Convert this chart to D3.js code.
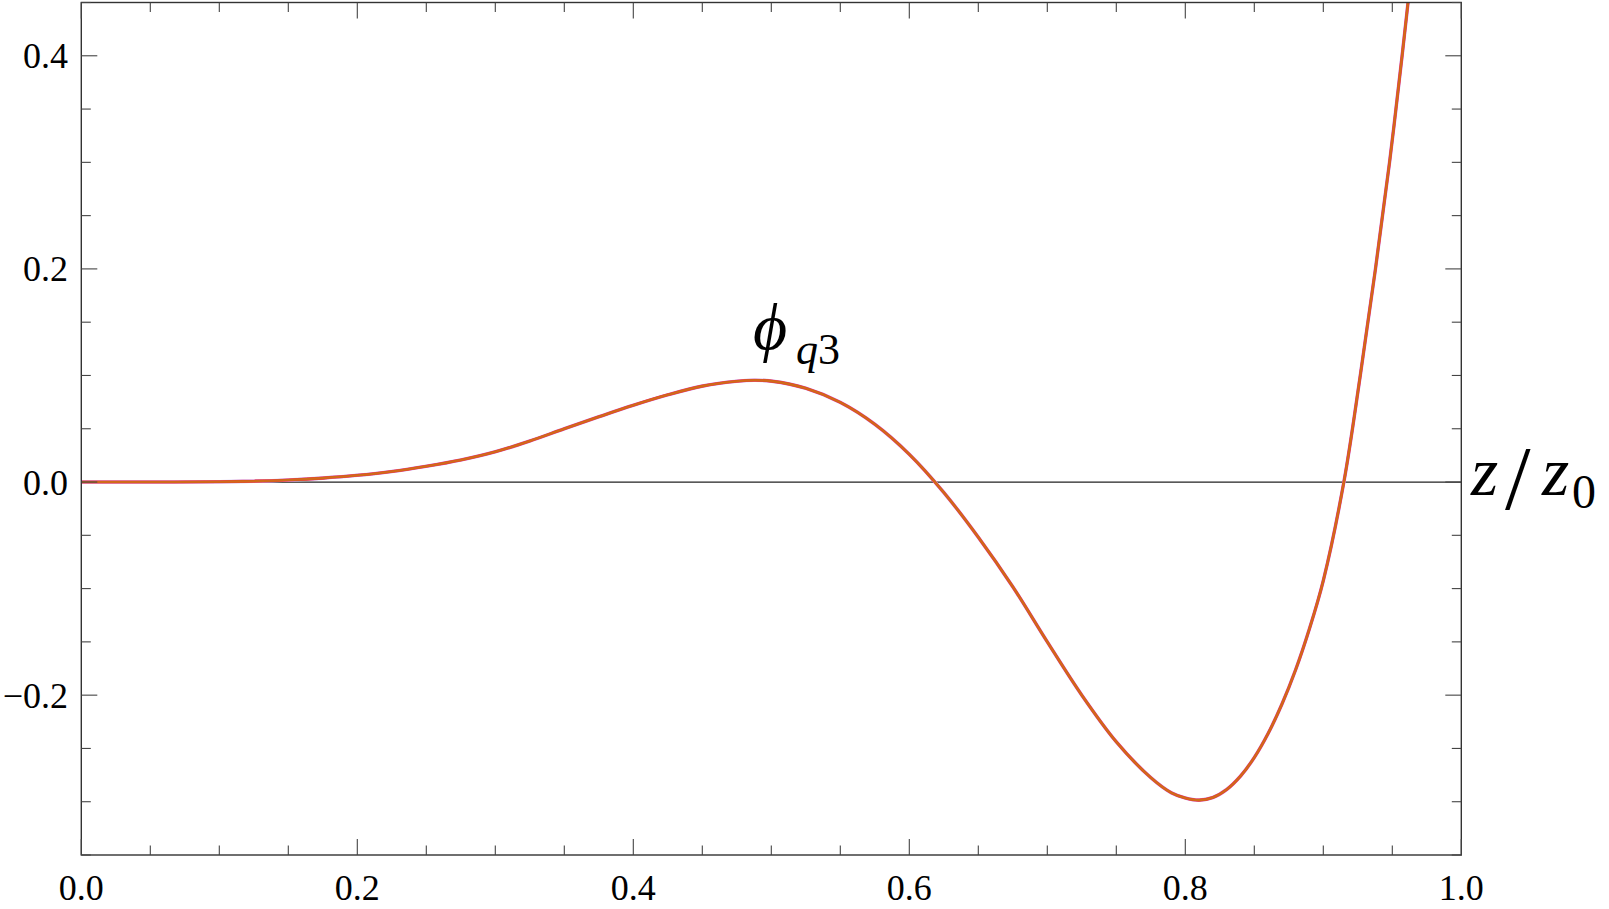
<!DOCTYPE html>
<html>
<head>
<meta charset="utf-8">
<script src="https://cdn.jsdelivr.net/npm/d3@7"></script>
<style>
  body { margin: 0; background: #fff; }
</style>
</head>
<body>
<script>
// data
var zVals = [0.00, 0.05, 0.10, 0.125, 0.15, 0.175, 0.20, 0.225, 0.25, 0.275, 0.30, 0.325, 0.35, 0.375,
  0.40, 0.425, 0.45, 0.475, 0.4875, 0.50, 0.525, 0.55, 0.575, 0.60, 0.625, 0.65, 0.675, 0.70,
  0.725, 0.75, 0.775, 0.79, 0.80, 0.81, 0.82, 0.83, 0.84, 0.85, 0.86, 0.87, 0.88, 0.89, 0.90, 0.9149,
  0.9268, 0.9378, 0.9480, 0.9571, 0.9614, 0.9657];
var phiVals = [0, 0, 0.0003, 0.0008, 0.0019, 0.0037, 0.0063, 0.0099, 0.0148, 0.0207, 0.0284, 0.0385, 0.0500, 0.0612,
  0.0720, 0.0818, 0.0900, 0.0945, 0.0955, 0.0947, 0.0880, 0.0747, 0.0542, 0.0260, -0.0098, -0.0518, -0.0983, -0.1500,
  -0.2000, -0.2438, -0.2774, -0.2917, -0.2965, -0.2985, -0.2960, -0.2885, -0.2760, -0.2585, -0.2360, -0.2085, -0.1760, -0.1375, -0.0925, 0,
  0.100, 0.200, 0.300, 0.400, 0.450, 0.500];

var xMajor = [0, 0.2, 0.4, 0.6, 0.8, 1.0];
var xMajorLabels = ["0.0", "0.2", "0.4", "0.6", "0.8", "1.0"];
var xMinor = d3.range(0, 1.0001, 0.05);
var yMajor = [-0.2, 0, 0.2, 0.4];
var yMajorLabels = ["\u22120.2", "0.0", "0.2", "0.4"];
var yMinor = d3.range(-0.35, 0.4501, 0.05);

var serif = "'Liberation Serif', 'Times New Roman', Tinos, 'DejaVu Serif', serif";

var svgWidth = 1609;
var svgHeight = 909;

var plot = { left: 81.3, right: 1461.3, top: 2.5, bottom: 855 };

var svg = d3.select("body")
  .append("svg")
  .attr("width", svgWidth)
  .attr("height", svgHeight)
  .attr("font-family", serif);

var xScale = d3.scaleLinear().domain([0, 1]).range([plot.left, plot.right]);
var yScale = d3.scaleLinear().domain([-0.35, 0.45]).range([plot.bottom, plot.top]);

svg.append("clipPath").attr("id", "clip")
  .append("rect")
  .attr("x", plot.left).attr("y", plot.top)
  .attr("width", plot.right - plot.left).attr("height", plot.bottom - plot.top);

// zero line
svg.append("line")
  .attr("x1", plot.left).attr("x2", plot.right)
  .attr("y1", yScale(0)).attr("y2", yScale(0))
  .attr("stroke", "#222").attr("stroke-width", 1.2);

// curve, a few traces drawn on top of each other
var data = zVals.map(function(z, i) { return [z, phiVals[i]]; });
var line = d3.line()
  .x(d => xScale(d[0]))
  .y(d => yScale(d[1]))
  .curve(d3.curveCatmullRom.alpha(0.5));

var traces = [
  { color: "#c8b8f0", width: 3.6 },
  { color: "#f0448c", width: 3.1 },
  { color: "#e3441f", width: 2.6 },
  { color: "#d06a1a", width: 2.1 }
];
traces.forEach(function(t) {
  svg.append("path")
    .datum(data)
    .attr("clip-path", "url(#clip)")
    .attr("fill", "none")
    .attr("stroke", t.color)
    .attr("stroke-width", t.width)
    .attr("d", line);
});

// frame
svg.append("rect")
  .attr("x", plot.left).attr("y", plot.top)
  .attr("width", plot.right - plot.left).attr("height", plot.bottom - plot.top)
  .attr("fill", "none").attr("stroke", "#333").attr("stroke-width", 1.4);

// ticks on all four sides, pointing inward
var tickColor = "#444";
function isMajor(v, list) {
  return list.some(m => Math.abs(m - v) < 1e-6);
}
xMinor.forEach(function(v) {
  var len = isMajor(v, xMajor) ? 16 : 9.5;
  var x = xScale(v);
  svg.append("line").attr("x1", x).attr("x2", x)
    .attr("y1", plot.bottom).attr("y2", plot.bottom - len)
    .attr("stroke", tickColor).attr("stroke-width", 1.1);
  svg.append("line").attr("x1", x).attr("x2", x)
    .attr("y1", plot.top).attr("y2", plot.top + len)
    .attr("stroke", tickColor).attr("stroke-width", 1.1);
});
yMinor.forEach(function(v) {
  var len = isMajor(v, yMajor) ? 16 : 9.5;
  var y = yScale(v);
  svg.append("line").attr("x1", plot.left).attr("x2", plot.left + len)
    .attr("y1", y).attr("y2", y)
    .attr("stroke", tickColor).attr("stroke-width", 1.1);
  svg.append("line").attr("x1", plot.right).attr("x2", plot.right - len)
    .attr("y1", y).attr("y2", y)
    .attr("stroke", tickColor).attr("stroke-width", 1.1);
});

// tick labels
svg.selectAll(".xlab")
  .data(xMajor)
  .enter().append("text")
  .attr("class", "xlab")
  .attr("x", d => xScale(d))
  .attr("y", 900)
  .attr("text-anchor", "middle")
  .style("font-family", serif)
  .style("font-size", "36px")
  .text((d, i) => xMajorLabels[i]);

svg.selectAll(".ylab")
  .data(yMajor)
  .enter().append("text")
  .attr("class", "ylab")
  .attr("x", 68)
  .attr("y", d => yScale(d) + 12.5)
  .attr("text-anchor", "end")
  .style("font-family", serif)
  .style("font-size", "36px")
  .text((d, i) => yMajorLabels[i]);

// axis label z / z0
var zl = svg.append("text")
  .style("font-family", serif)
  .style("font-size", "70px");
zl.append("tspan").attr("x", 1471).attr("y", 495).style("font-style", "italic").text("z");
zl.append("tspan").attr("x", 1505).attr("y", 509).style("font-size", "92px").text("/");
zl.append("tspan").attr("x", 1542).attr("y", 495).style("font-style", "italic").text("z");
zl.append("tspan").attr("x", 1572).attr("y", 508).style("font-size", "48px").text("0");

// curve label
var pl = svg.append("text")
  .style("font-family", serif)
  .style("font-size", "66px");
pl.append("tspan").attr("x", 753).attr("y", 349).style("font-style", "italic").text("\u03d5");
pl.append("tspan").attr("x", 796).attr("y", 364).style("font-size", "44px").style("font-style", "italic").text("q");
pl.append("tspan").style("font-size", "44px").text("3");
</script>
</body>
</html>
